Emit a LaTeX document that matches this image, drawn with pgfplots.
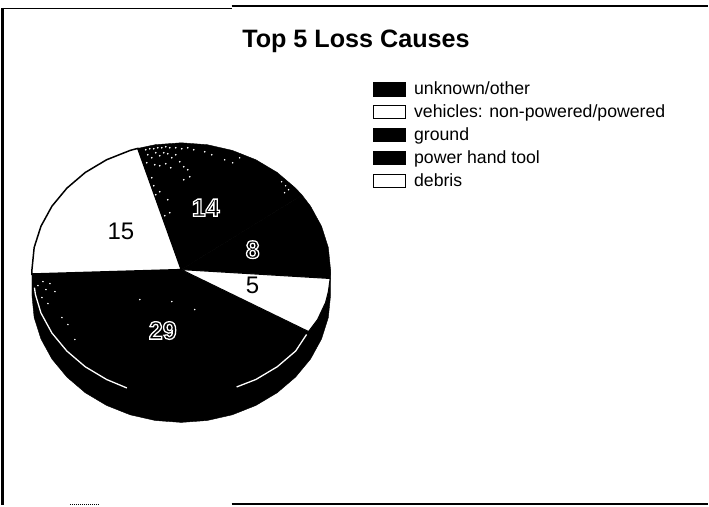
\documentclass[border=0pt]{standalone}
\usepackage{pgfplots}
\pgfplotsset{compat=1.18}
\usepackage{fontspec}
\setmainfont{Liberation Sans}

% black digits with a white outline, as on the dark slices
\newcommand\halo[1]{%
  \special{pdf:code q 2 Tr 1.3 w 1 1 1 RG 0 0 0 rg}\textbf{#1}\special{pdf:code Q}}

\begin{document}
\begin{tikzpicture}
\begin{axis}[
    scale only axis,
    width=709pt,
    height=506pt,
    xmin=0, xmax=709,
    ymin=0, ymax=506,
    y dir=reverse,
    hide axis,
    clip=false,
    legend cell align=left,
    legend style={
        draw=none, fill=none,
        at={(axis cs:373,80)}, anchor=north west,
        font=\fontsize{17.7}{17.7}\selectfont,
        row sep=4.6pt,
        inner sep=0pt,
    },
    legend image code/.code={
        \fill[#1] (0pt,-6.5pt) rectangle (32pt,6.5pt);
        \draw[#1,line width=1.4pt] (0pt,-6.5pt) rectangle (32pt,6.5pt);
        \path (38pt,0pt);
    },
]
% keeps the whole page in the picture
\addplot[draw=none, forget plot] coordinates {(0,0) (709,506)};
% side of the pie
\addplot[black, fill=black, forget plot] coordinates {
    (32,270) (32,296) (34.2,318) (41,339.4) (52,359.5) (67,377.6) (85.4,393.3)
    (106.7,406) (130.4,415.4) (155.5,421.1) (181.5,423) (207.5,421.1)
    (232.6,415.4) (256.3,406) (277.6,393.3) (296,377.6) (311,359.5)
    (322,339.4) (328.8,318) (331,296) (331,270)
} -- cycle;
% slices: 29
\addplot[black, fill=black] coordinates {
    (181.5,270) (32,274.4) (34.2,292.1) (41,313.4) (52,333.5) (67,351.6)
    (85.4,367.3) (106.7,380) (130.4,389.4) (155.5,395.1) (181.5,397)
    (207.5,395.1) (232.6,389.4) (256.3,380) (277.6,367.3) (296,351.6) (309,332)
} -- cycle;
\addlegendentry{unknown/other}
% 15
\addplot[black, line width=1.5pt, fill=white] coordinates {
    (181.5,270) (138,148.6) (130.4,150.6) (106.7,160) (85.4,172.7) (67,188.4)
    (52,206.5) (41,226.6) (34.2,247.9) (32,270) (32,274.4)
} -- cycle;
\addlegendentry{vehicles: non-powered/powered}
% 14
\addplot[black, fill=black] coordinates {
    (181.5,270) (138,148.6) (155.5,144.9) (181.5,143) (207.5,144.9) (232.6,150.6)
    (256.3,160) (277.6,172.7) (296,188.4) (302.5,195.4)
} -- cycle;
\addlegendentry{ground}
% 8
\addplot[black, fill=black] coordinates {
    (181.5,270) (302.5,195.4) (311,206.5) (322,226.6) (328.8,247.9) (331,270)
    (330.6,278.9)
} -- cycle;
\addlegendentry{power hand tool}
% 5
\addplot[black, line width=1pt, fill=white] coordinates {
    (181.5,270) (330.6,278.9) (328.8,292.1) (326,303) (318,320) (309,332)
} -- cycle;
\addlegendentry{debris}
% white rim between top and side
\addplot[white, line width=1.3pt, forget plot] coordinates {
    (34.5,288) (35.5,295) (41,313.4) (52,333.5) (67,351.6) (85.4,367.3)
    (106.7,380) (127,388.5)
};
\addplot[white, line width=1.3pt, forget plot] coordinates {
    (237,387.5) (256.3,380) (277.6,367.3) (296,351.6) (307,335)
};
% speckle of the scanned grey
\addplot[only marks, mark=*, mark size=0.55pt, white, forget plot] coordinates {
    (146,150) (150,149) (154,149) (158,148) (162,148) (166,147) (170,148) (176,148)
    (182,149) (188,148) (194,150) (148,155) (152,158) (156,153) (160,156) (164,153)
    (168,154) (172,158) (176,155) (180,162) (184,167) (188,170) (147,163) (155,165)
    (160,166) (166,164) (171,168) (152,178) (154,186) (156,195) (160,192) (184,180)
    (190,177) (148,205) (168,200) (170,213) (165,216) (205,152) (212,155) (225,160)
    (233,163) (240,158) (282,182) (286,186) (289,190) (285,193) (43,282) (50,284)
    (38,286) (46,290) (55,292) (42,298) (48,304) (62,318) (75,340) (68,325) (140,300)
    (172,302) (195,310)
};
% frame left by the scan
\addplot[black, line width=2.5pt, forget plot] coordinates {(2.5,8) (2.5,506)};
\addplot[black, line width=1.5pt, forget plot] coordinates {(1.5,8.5) (232,8.5)};
\addplot[black, line width=2pt, forget plot] coordinates {(232,6) (709,6)};
\addplot[black, line width=2pt, forget plot] coordinates {(232,505) (709,505)};
\addplot[black, line width=1pt, densely dotted, forget plot] coordinates {(70,505) (100,505)};

\node[font=\fontsize{25.2}{25.2}\selectfont\bfseries] at (axis cs:356.5,41) {Top 5 Loss Causes};
\node[font=\fontsize{25}{25}\selectfont] at (axis cs:206,208) {\halo{14}};
\node[font=\fontsize{25}{25}\selectfont] at (axis cs:253,250) {\halo{8}};
\node[font=\fontsize{24}{24}\selectfont] at (axis cs:253,286) {5};
\node[font=\fontsize{24}{24}\selectfont] at (axis cs:121,232) {15};
\node[font=\fontsize{25}{25}\selectfont] at (axis cs:163,331) {\halo{29}};
\end{axis}
\end{tikzpicture}
\end{document}
